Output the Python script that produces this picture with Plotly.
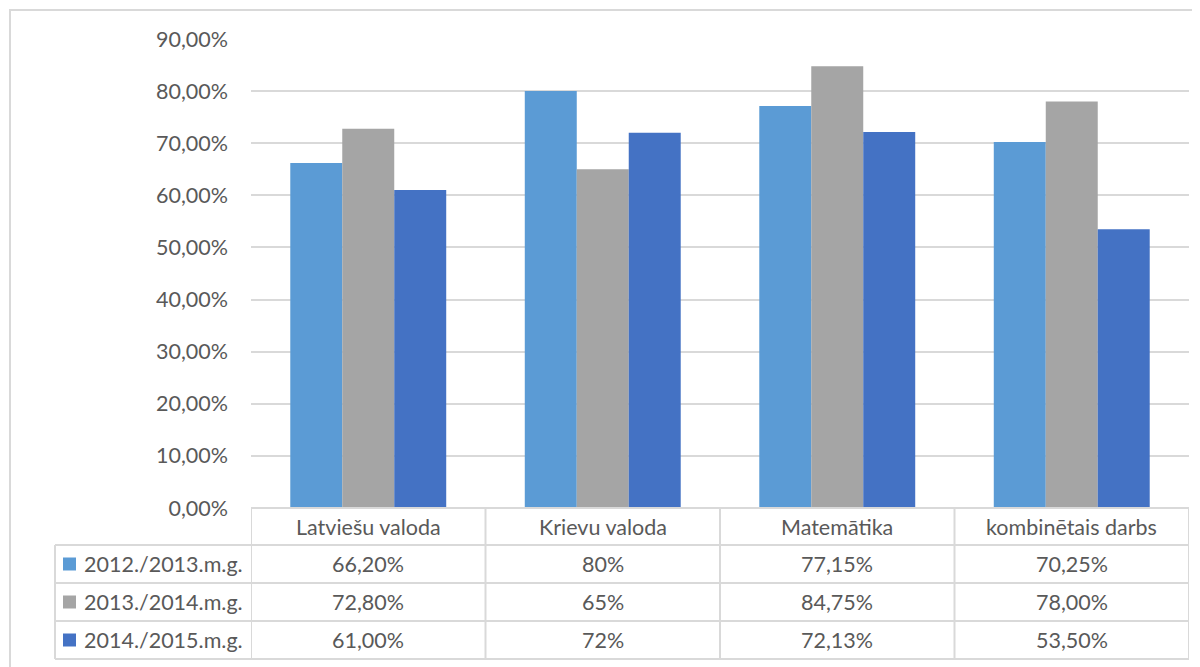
import plotly.graph_objects as go

categories = ["Latviešu valoda", "Krievu valoda", "Matemātika", "kombinētais darbs"]
series_names = ["2012./2013.m.g.", "2013./2014.m.g.", "2014./2015.m.g."]
values_2012 = [66.20, 80, 77.15, 70.25]
values_2013 = [72.80, 65, 84.75, 78.00]
values_2014 = [61.00, 72, 72.13, 53.50]
labels_2012 = ["66,20%", "80%", "77,15%", "70,25%"]
labels_2013 = ["72,80%", "65%", "84,75%", "78,00%"]
labels_2014 = ["61,00%", "72%", "72,13%", "53,50%"]
tick_vals = [0, 10, 20, 30, 40, 50, 60, 70, 80, 90]
tick_text = ["0,00%", "10,00%", "20,00%", "30,00%", "40,00%", "50,00%",
             "60,00%", "70,00%", "80,00%", "90,00%"]

colors = ["#5B9BD5", "#A5A5A5", "#4472C4"]
all_values = [values_2012, values_2013, values_2014]
all_labels = [labels_2012, labels_2013, labels_2014]

FONT = "Lato"
TXT = "#595959"
LINE = "#D9D9D9"
FS = 21.5

# page body has an 8px margin; figure pixel coords = screen coords - OFF
OFF = 8
FW, FH = 1200 - OFF, 667 - OFF
# screen geometry of plot area: x 251..1189, y 39..508
L, R, T, B = 251 - OFF, 1189 - OFF, 39 - OFF, 508 - OFF
W, H = R - L, B - T
def px(x): return (x - OFF - L) / W
def py(y): return (B - (y - OFF)) / H

fig = go.Figure()
xs = list(range(len(categories)))
for name, vals, col in zip(series_names, all_values, colors):
    fig.add_trace(go.Bar(x=xs, y=vals, name=name, marker=dict(color=col, line=dict(width=0)),
                         hoverinfo="skip"))

shapes = []
annotations = []
line = dict(color=LINE, width=2)

# outer chart border
shapes.append(dict(type="rect", xref="paper", yref="paper", x0=px(10), x1=px(1215),
                   y0=py(680), y1=py(10), line=dict(color=LINE, width=2), layer="below"))

row_edges = [508, 545, 583, 621, 659]
row_centers = [527, 564, 602, 640]
n = len(categories)
shapes.append(dict(type="line", xref="x", yref="paper", x0=-0.5, x1=n - 0.5,
                   y0=py(row_edges[0]), y1=py(row_edges[0]), line=line))
for ye in row_edges[1:]:
    shapes.append(dict(type="line", xref="paper", yref="paper", x0=px(55), x1=1,
                       y0=py(ye), y1=py(ye), line=line))
for i in range(n + 1):
    shapes.append(dict(type="line", xref="x", yref="paper", x0=i - 0.5, x1=i - 0.5,
                       y0=py(row_edges[0]), y1=py(row_edges[-1]), line=line))
shapes.append(dict(type="line", xref="paper", yref="paper", x0=px(55), x1=px(55),
                   y0=py(row_edges[1]), y1=py(row_edges[-1]), line=line))

for i, c in enumerate(categories):
    annotations.append(dict(x=i, y=py(row_centers[0]), xref="x", yref="paper", text=c,
                            showarrow=False, xanchor="center", yanchor="middle",
                            font=dict(family=FONT, size=FS, color=TXT)))
for r, (name, labs, col) in enumerate(zip(series_names, all_labels, colors)):
    yc = py(row_centers[r + 1])
    shapes.append(dict(type="rect", xref="paper", yref="paper", x0=px(63), x1=px(76),
                       y0=py(row_centers[r + 1] + 6.5), y1=py(row_centers[r + 1] - 6.5),
                       fillcolor=col, line=dict(width=0)))
    annotations.append(dict(x=px(82), y=yc, xref="paper", yref="paper", text=name,
                            showarrow=False, xanchor="left", yanchor="middle",
                            font=dict(family=FONT, size=FS, color=TXT)))
    for i, lab in enumerate(labs):
        annotations.append(dict(x=i, y=yc, xref="x", yref="paper", text=lab,
                                showarrow=False, xanchor="center", yanchor="middle",
                                font=dict(family=FONT, size=FS, color=TXT)))

fig.update_layout(
    width=FW, height=FH,
    margin=dict(l=L, r=FW - R, t=T, b=FH - B),
    paper_bgcolor="white", plot_bgcolor="white",
    barmode="group", bargap=0.335, bargroupgap=0,
    showlegend=False,
    shapes=shapes, annotations=annotations,
    xaxis=dict(range=[-0.5, n - 0.5], showticklabels=False, showgrid=False,
               zeroline=False, showline=False, fixedrange=True),
    yaxis=dict(range=[0, 90], tickvals=tick_vals, ticktext=tick_text,
               showgrid=True, gridcolor=LINE, gridwidth=2, zeroline=False,
               showline=False, ticks="", ticklabelstandoff=22,
               tickfont=dict(family=FONT, size=FS, color=TXT), fixedrange=True),
)

fig.write_html("out.html")
